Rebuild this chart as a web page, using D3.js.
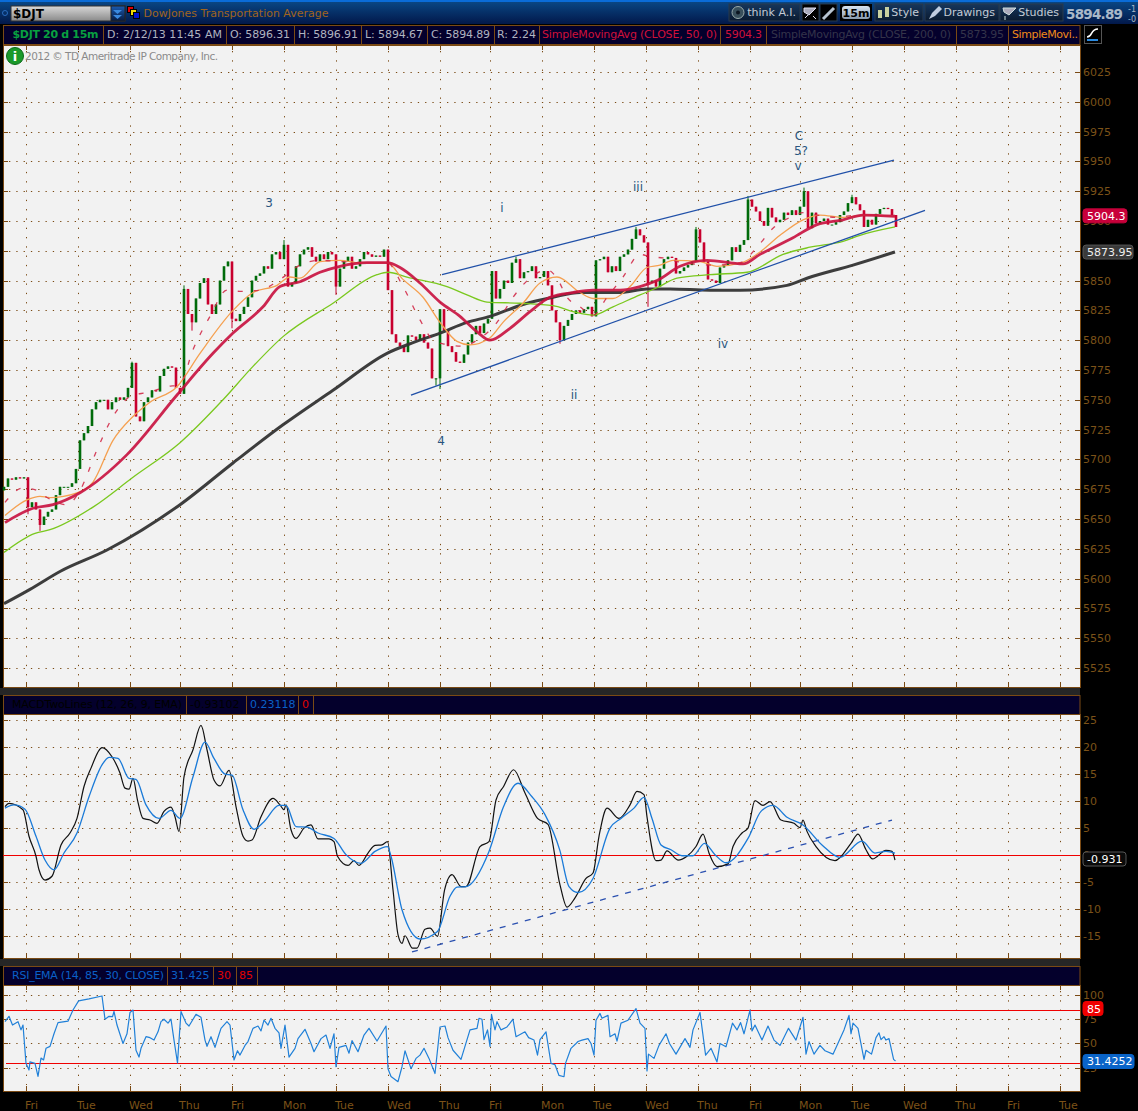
<!DOCTYPE html>
<html><head><meta charset="utf-8">
<style>html,body{margin:0;padding:0;background:#000;overflow:hidden}svg{display:block}text{font-family:"DejaVu Sans",sans-serif}</style>
<script src="https://cdnjs.cloudflare.com/ajax/libs/d3/7.8.5/d3.min.js"></script>
</head><body><div id="chart"></div>
<script>
// ---------- DATA. t = time position in half-bar (7.5 min) units ----------
const dayTickT=[26,78,130,180,232,284,336,388,440,490,542,594,646,698,750,800,852,904,956,1008,1060];
const dayLabels=["Fri","Tue","Wed","Thu","Fri","Mon","Tue","Wed","Thu","Fri","Mon","Tue","Wed","Thu","Fri","Mon","Tue","Wed","Thu","Fri","Tue"];
const priceTicks=[6025,6000,5975,5950,5925,5900,5875,5850,5825,5800,5775,5750,5725,5700,5675,5650,5625,5600,5575,5550,5525];
const macdTicks=[25,20,15,10,5,0,-5,-10,-15];
const rsiTicks=[100,75,50,25];
// 30-minute closes (every 4 t units, starting t=4)
const closes=[5677,5684,5683,5685,5684,5685,5660,5664,5658,5645,
5652,5656,5658,5670,5677,5677,5677,5680,5692,5716,
5722,5728,5742,5748,5750,5750,5742,5748,5752,5750,
5752,5760,5781,5736,5732,5748,5752,5758,5757,5770,
5776,5778,5777,5760,5755,5843,5822,5815,5835,5848,
5852,5830,5822,5830,5850,5862,5866,5818,5816,5822,
5828,5836,5850,5854,5856,5862,5860,5872,5874,5868,
5880,5845,5848,5862,5872,5876,5878,5870,5866,5872,
5868,5874,5872,5845,5860,5866,5870,5860,5862,5868,
5874,5872,5870,5871,5870,5876,5842,5805,5798,5795,
5790,5804,5803,5800,5805,5798,5793,5768,5768,5826,
5808,5795,5790,5782,5781,5788,5798,5805,5812,5806,
5814,5818,5858,5835,5843,5850,5848,5865,5868,5852,
5857,5858,5862,5852,5853,5858,5846,5825,5815,5800,
5812,5817,5822,5825,5823,5826,5828,5820,5867,5868,
5870,5857,5862,5858,5870,5872,5876,5885,5893,5888,
5882,5848,5850,5845,5860,5868,5870,5869,5856,5858,
5861,5863,5866,5893,5882,5866,5851,5850,5848,5861,
5863,5867,5878,5874,5880,5884,5918,5912,5908,5900,
5896,5911,5903,5899,5901,5907,5905,5909,5905,5912,
5925,5894,5907,5898,5900,5902,5897,5897,5899,5905,
5908,5915,5920,5914,5909,5895,5901,5897,5906,5910,
5911,5910,5905,5895];
const wickHighIdx=[32,45,70,128,158,173,186,200,212];
const wickHighVal=[5782,5846,5884,5870,5895,5895,5921,5928,5922];
const wickLowIdx=[6,9,47,57,83,109,139,161,108];
const wickLowVal=[5654,5640,5808,5810,5838,5759,5797,5828,5762];
const sma200T=[4,30,60,107,180,233,283,333,387,413,440,467,490,523,553,580,620,647,670,710,740,787,807,853,895];
const sma200V=[5579,5591,5606,5624,5662,5697,5729,5758,5789,5798,5806,5815,5820,5830,5836,5840,5840,5843,5843,5842,5842,5846,5852,5863,5874];
const limeT=[4,35,50,93,133,180,223,253,283,333,377,388,407,447,467,487,520,553,573,593,613,640,657,677,710,747,783,810,843,860,895];
const limeV=[5622,5638,5641,5660,5685,5714,5750,5778,5803,5831,5855,5857,5853,5845,5838,5832,5831,5829,5824,5821,5828,5838,5844,5852,5855,5857,5872,5878,5883,5888,5895];
const sma50T=[5,33,53,80,127,177,213,233,263,280,300,320,340,367,387,400,420,440,460,477,490,510,530,550,573,593,620,640,657,680,707,743,760,793,817,843,863,895];
const sma50V=[5647,5659,5662,5672,5704,5754,5789,5806,5828,5845,5849,5857,5862,5865,5865,5861,5848,5832,5820,5807,5800,5810,5824,5836,5840,5842,5842,5845,5850,5862,5867,5864,5872,5886,5897,5901,5905,5904];
const orangeT=[5,27,40,50,77,93,113,133,150,177,200,233,253,277,290,300,320,340,360,387,403,423,440,457,470,490,503,523,540,557,580,593,613,630,647,660,673,700,717,742,760,780,803,820,843,867,895];
const orangeV=[5653,5666,5669,5668,5672,5681,5716,5736,5748,5761,5789,5825,5840,5846,5853,5852,5866,5867,5865,5865,5851,5836,5815,5799,5796,5802,5815,5831,5848,5853,5840,5835,5835,5845,5861,5863,5867,5866,5862,5865,5874,5888,5901,5905,5903,5905,5904];
const fastT=[5,23,37,47,67,80,97,113,133,147,167,180,193,210,227,240,260,280,300,320,340,367,387,403,420,433,443,463,477,497,513,530,547,557,567,580,593,607,623,640,650,663,677,713,740,757,773,793,803,817,837,857,893];
const fastV=[5664,5676,5674,5668,5662,5674,5708,5736,5754,5756,5761,5763,5792,5820,5842,5841,5842,5851,5863,5867,5866,5865,5865,5845,5817,5800,5797,5795,5800,5815,5836,5852,5859,5852,5836,5828,5821,5836,5853,5872,5870,5869,5866,5863,5865,5878,5894,5904,5907,5905,5903,5905,5904];
const channelUpperT=[442,894], channelUpperV=[5855,5951];
const channelLowerT=[411,925], channelLowerV=[5754,5909];
const macdT=[5,9,23,29,36,39,45,52,61,70,77,84,91,102,112,120,125,129,133,137.5,143,150,157,164,171,175,179,184,193,201,207,214,220,229,236,243,248,252,261,273,280,284,286,291,296,304,311,318,329,334,337.5,348,354,359,368,375,382,387.5,393,398,402,405,412.5,417,425,430,437.5,444.6,452,461,466,480,489,496,503.6,513.6,525,537.5,548,560,567,575,586,593,599,607,619,630,637,644,647,656,661,667,678,687,696,703,709,717,728,733,742,748,755,763,770,781,794,800,803,807,816,835,851,858,866,872.6,886,892,895];
const macdV=[9,9.6,8.4,3.5,-0.2,-2.7,-4.6,-3.9,1.9,4.1,6.8,12.7,16.1,19.9,18.2,15.2,12.4,12.2,14.2,10.2,6.8,6.5,5.9,8.1,8.9,7.1,4.4,14.5,19.5,24,19.5,13.9,12.8,15.7,9,3.5,2.6,2.8,7.1,10.5,9.3,8.4,9.3,4.7,3.1,5,5.6,3,3,2.5,-0.2,-1.9,-1,-1.9,0.4,1.8,1.9,2.5,-6.4,-14.7,-16.3,-14.9,-17.2,-17.2,-13.7,-13.5,-15,-6.4,-3.6,-5.8,-5.8,1.6,2.5,10.2,12.7,15.8,11.5,6.8,5.7,-5.5,-9.6,-7.9,-4.3,-3.3,3.5,8.7,6.8,9.3,11.8,11.2,7.1,-1,-0.9,0.8,-0.9,-0.2,1.6,3.9,0.4,-2.1,-1.6,1.6,4.1,5,10.1,9.2,9.9,6.5,5.9,5.1,6.5,4.4,1.6,-1,2.2,3.9,1,-0.7,0.9,0.7,-0.9];
const signalT=[5,14,25,36,45,54,64,77,89,102,109,118,129,136,146,159,171,180,193,205,214,225,232,243,254,264,279,286,296,307,318,334,346,361,375,387.5,391,402,420,437.5,450,457,466,489,503.6,518,532,545,560,569,578,593,610,621,634,644,652,661,671,682,693,704.5,715,726,748,761,773,787,803,822,840,862,875,886,895];
const signalV=[8.7,9.3,8.5,3.5,-0.9,-2.7,0.4,4.1,10.8,16.7,18.1,17.9,14.2,14,9.3,6.8,8.3,6.8,14.5,20.9,17.9,15,14.8,8.4,4.8,6.2,9.2,9.2,5.3,5.2,4.1,3.1,0.1,-1.5,0.7,1.6,-0.2,-10.1,-15.5,-14.1,-7.6,-5.9,-5.8,0.7,9,13.3,10.8,7.5,0.8,-5.8,-6.9,-4.3,5,6.8,8.7,10.7,6.8,1.9,1,-0.1,-0.1,2.2,0.1,-1.4,3.1,8.1,9.2,7,5.6,1.9,-0.4,2.6,0.4,0.7,0.4];
const macdTrendT=[412,892], macdTrendV=[-17.9,6.5];
const rsiT=[5,9,12.5,18,21,23,26,29,30,35,38,41,43.6,46,50,54,58,68,73,78.6,89,102,105,109,112.5,114,117,123,127,130,133,136,139,141,146,150,154,158,161,164,168,171,174,177.5,181,186,189,196,201,205,207,211,215,218.6,221,227,230,234,237.5,240,245,248,253,258,261,264,268,271,275,279,281,285,289,295,298,305,311,314,321,326,330,334,336,339,346,349,352,358,364,369,377,386,388,391,398,402,405,411,416,420,424,429,435,440,445,448,453,461,470,477,479,482,484,487.5,490,491.5,495,497,501,507,513,516,525,528.6,534,537.5,540,546,551,555,559,564,565.5,571,575.5,578,582,588,591,594,596,600,602,608,610,615,617,621,628,636,640,645,647,648.5,654,659,666,669.5,676,685,690,693,700,705.6,711,717,720,726,732.5,737,740.6,744,750,752,755,762,768,774,780,788.5,796,803,806,809,814,820,825,833,844,849,851,853,858,864,866,871.5,876,879,881,884,886,889,893.6,895.5];
const rsiV=[72.5,78,69,72.5,64,69,29.5,22.6,31,29.5,16,35,33,45,47,60,71.5,73,84.5,94,96,99,75,78,77.6,83,69,50,60,82,84.5,43,36,45,57,56,53.5,62,72.5,75,71,75,53.5,30,83,71,68,80,77,53.5,47,57,46,58,65.6,72.5,69,33,42.5,38,48,52,65.6,68,63,74,69,76,65.6,61,45,69,36,45,55,64.6,50,41.5,55,58.7,45,60,26,46,48,40,53,41.5,58.7,65.6,52.5,68,24,16,10.6,26,42.5,24,34.6,38,45,34.6,19,67,68,56,43,33.6,64,65.6,76,75,54,64,47,80,64,72.5,64,67,75,57,62,56,53.5,38,54,62,29.5,28,17,15.7,29.5,45,49.4,52,53.5,55,50,38,74,81,76,79,57,60,52.5,71,74,86,71,65.6,21.6,39,34.6,48,60,50,39,55,46,64,82,38,45,31,50,46.6,71,64,71.5,60,84.5,63,69,53.5,68,53.5,48,65.6,53.5,77,39,52,39,48,42.5,39,64,79,60,71,65.6,33.6,43,39,56,61,54,57,53.5,55,33.6,32];
const rsiLevels=[85,30];
// ---------- layout ----------
const W=1138,H=1111,L=3,R=1080;
const P={top:45,bot:687}, M={top:714,bot:958}, S={top:985,bot:1091};
const C={brown:"#7a4a14",axis:"#7c5218",plot:"#f2f2f2",red:"#c8002e",green:"#006b0a",navy:"#04002c",line:"#f00000"};
const x=d3.scaleLinear().domain([0,W]).range([0,W]);
const yP=d3.scaleLinear().domain([5525,6025]).range([668,72]);
const yM=d3.scaleLinear().domain([-15,25]).range([936.3,720]);
const yS=d3.scaleLinear().domain([25,100]).range([1067.7,995]);
const svg=d3.select("#chart").append("svg").attr("width",W).attr("height",H);
const defs=svg.append("defs");
function grad(id,stops){const g=defs.append("linearGradient").attr("id",id).attr("x1",0).attr("x2",0).attr("y1",0).attr("y2",1);
 stops.forEach(s=>g.append("stop").attr("offset",s[0]).attr("stop-color",s[1]));}
grad("gTop",[[0,"#0a4a88"],[1,"#02184a"]]);
grad("gSym",[[0,"#d8d8d8"],[1,"#8a8a8a"]]);
grad("gBtn",[[0,"#16365c"],[1,"#0a1a30"]]);
grad("gDrop",[[0,"#1a5ab0"],[1,"#061a40"]]);
grad("gM",[[0,"#d8e4f0"],[1,"#8a9cb0"]]);
function rect(g,a,b,w,h,f,s){return g.append("rect").attr("x",a).attr("y",b).attr("width",w).attr("height",h).attr("fill",f).attr("stroke",s||"none");}
function txt(g,a,b,t,f,sz,o={}){const e=g.append("text").attr("x",a).attr("y",b).attr("fill",f).attr("font-size",sz).text(t);
 for(const k in o)e.attr(k,o[k]);return e;}
rect(svg,0,0,W,H,"#000");
// top bar
const tb=svg.append("g");
rect(tb,0,0,W,24,"url(#gTop)");rect(tb,0,0,W,2,"#0a6cd8");
tb.append("circle").attr("cx",5).attr("cy",13).attr("r",2.5).attr("fill","none").attr("stroke","#2a6cc0");
rect(tb,11,6,114,15,"url(#gSym)","#333");
txt(tb,13,18,"$DJT","#000",12,{"font-weight":"bold"});
rect(tb,111,6,14,15,"url(#gDrop)","#222");
tb.append("path").attr("d","M113,10h9l-4.5,4zM113,15h9l-4.5,4z").attr("fill","#3a8ae0");
rect(tb,127.5,6.5,6,6,"#e00000","#000");rect(tb,130.5,9.5,6,6,"#f0d800","#000");rect(tb,133.5,12.5,6,6,"#0010d0","#000");
txt(tb,143.5,17,"DowJones Transportation Average","#a0641e",11,{textLength:185});
[[729,71,"think A.I."],[802,17,""],[820,17,""],[875,48,"Style"],[925,74,"Drawings"],[1000,63,"Studies"]].forEach((b,i)=>{
 rect(tb,b[0],4,b[1],17,i==1||i==2?"#000":"url(#gBtn)","#2a3a4a");
 if(b[2])txt(tb,b[0]+b[1]-4,16,b[2],"#c4ccd4",11,{"text-anchor":"end"});
});
tb.append("circle").attr("cx",738).attr("cy",12.5).attr("r",6).attr("fill","#39505c").attr("stroke","#9aa");
tb.append("circle").attr("cx",738).attr("cy",12.5).attr("r",2).attr("fill","#0b1520");
tb.append("path").attr("d","M804,8l12,0l-7,7l-5,-3zM805,18l3,-3M816,19l-3,-3").attr("fill","#aab").attr("stroke","#dde");
tb.append("path").attr("d","M823,19l8,-8M831,11l3,-3").attr("stroke","#b8c4d0").attr("stroke-width",3);
rect(tb,840,4,32,17,"#000");rect(tb,842,6,28,13,"url(#gM)").attr("rx",3);
txt(tb,856,16.5,"15m","#000",11,{"text-anchor":"middle","font-weight":"bold"});
tb.append("path").attr("d","M880,10v8M887,7v10").attr("stroke","#c8d0a0").attr("stroke-width",4);
tb.append("path").attr("d","M929,19l3,-6l7,-7l3,3l-7,7z").attr("fill","#c0cde0");
tb.append("path").attr("d","M1003,8l13,0l-7,7l-5,-3zM1005,20v-4").attr("fill","#aab").attr("stroke","#cdd");
txt(tb,1066,19,"5894.89","#aab8c8",13.5,{"font-weight":"bold",textLength:57});
txt(tb,1128,12,"-1","#aab8c8",8);txt(tb,1128,22,"-0","#aab8c8",8);
function header(yT,h,seps,texts){const g=svg.append("g");rect(g,3.5,yT+.5,1076.5,h,C.navy,C.brown);
 seps.forEach(s=>g.append("line").attr("x1",s).attr("x2",s).attr("y1",yT).attr("y2",yT+h).attr("stroke",C.brown));
 texts.forEach(t=>{const e=txt(g,t[0],yT+12.5,t[1],t[2],t[3]||11,t[4]||{});});}
header(25,19,[103.5,226.5,294.5,361.5,427.5,494.5,539.5,720.5,766.5,956.5,1008.5],[
 [12.5,"$DJT 20 d 15m","#08a040",11,{"font-weight":"bold",textLength:86}],[107,"D: 2/12/13 11:45 AM","#b0b4c0",11,{textLength:115}],[230,"O: 5896.31","#b0b4c0",11,{textLength:60}],[298,"H: 5896.91","#b0b4c0",11,{textLength:60}],
 [365,"L: 5894.67","#b0b4c0",11,{textLength:58}],[431,"C: 5894.89","#b0b4c0",11,{textLength:59}],[497,"R: 2.24","#b0b4c0"],
 [542,"SimpleMovingAvg (CLOSE, 50, 0)","#d0103a",11,{textLength:175}],[725,"5904.3","#d0103a",11,{textLength:37}],
 [771,"SimpleMovingAvg (CLOSE, 200, 0)","#34344a",11,{textLength:180}],[960,"5873.95","#34344a",11,{textLength:44}],[1012,"SimpleMovi..","#f08a1a",11,{textLength:66}]]);
rect(svg,1084.5,25.5,17,18,"#000","#555");
svg.append("path").attr("d","M1087,40h11").attr("stroke","#2a8ae0").attr("stroke-width",2);
svg.append("path").attr("d","M1087,37c6,0,3,-8,11,-8").attr("fill","none").attr("stroke","#fff").attr("stroke-width",1.5);
header(695,19,[186.5,246.5,298.5,313.5],[[12,"MACDTwoLines (12, 26, 9, EMA)","#000",11,{textLength:170}],[190,"-0.93102","#000"],[250,"0.23118","#0a60c8"],[302,"0","#e00000"]]);
header(966,19,[167.5,213.5,236.5,257.5],[[12,"RSI_EMA (14, 85, 30, CLOSE)","#0a60c8",11,{textLength:152}],[171,"31.425","#0a60c8"],[217,"30","#e00000"],[239,"85","#e00000"]]);
[[688,7],[959,7]].forEach(b=>rect(svg,0,b[0],W-58,b[1],"#262626"));
// panels
function panel(pp,y,ticks){const g=svg.append("g");
 rect(g,L+.5,pp.top+.5,R-L,pp.bot-pp.top,C.plot,C.brown);
 ticks.forEach(t=>{const yy=Math.round(y(t))+.5;
  g.append("line").attr("x1",L+6).attr("x2",R-6).attr("y1",yy).attr("y2",yy).attr("stroke",C.brown).attr("stroke-dasharray","1.3,6");
  g.append("line").attr("x1",L).attr("x2",L+5).attr("y1",yy).attr("y2",yy).attr("stroke",C.brown);
  g.append("line").attr("x1",R-5).attr("x2",R).attr("y1",yy).attr("y2",yy).attr("stroke",C.brown);});
 dayTickT.forEach(t=>{const xx=Math.round(x(t))+.5;
  g.append("line").attr("x1",xx).attr("x2",xx).attr("y1",pp.top+6).attr("y2",pp.bot-6).attr("stroke",C.brown).attr("stroke-dasharray","1.3,8");
  g.append("line").attr("x1",xx).attr("x2",xx).attr("y1",pp.top).attr("y2",pp.top+5).attr("stroke",C.brown);
  g.append("line").attr("x1",xx).attr("x2",xx).attr("y1",pp.bot-5).attr("y2",pp.bot).attr("stroke",C.brown);});
}
panel(P,yP,priceTicks);panel(M,yM,macdTicks);panel(S,yS,rsiTicks);
// right axes with d3
function rAxis(y,ticks){const g=svg.append("g").attr("transform",`translate(${R},0)`).call(d3.axisRight(y).tickValues(ticks).tickSize(0).tickPadding(3).tickFormat(d=>d));
 g.select(".domain").remove();g.selectAll("text").attr("fill",C.axis).attr("font-size",11).attr("font-family",'"DejaVu Sans"');}
rAxis(yP,priceTicks);rAxis(yM,macdTicks);rAxis(yS,rsiTicks);
const gx=svg.append("g").attr("transform",`translate(0,${S.bot})`).call(d3.axisBottom(x).tickValues(dayTickT).tickSize(0).tickFormat((d,i)=>dayLabels[i]));
gx.select(".domain").remove();
gx.selectAll("text").attr("fill",C.axis).attr("font-size",11).attr("font-family",'"DejaVu Sans"').attr("text-anchor","start").attr("dx",-1.5).attr("dy",0).attr("y",18);
// copyright
svg.append("circle").attr("cx",15).attr("cy",56).attr("r",8.5).attr("fill","#1a9a2a").attr("stroke","#0a6a18");
txt(svg,15,60.5,"i","#fff",13,{"text-anchor":"middle","font-weight":"bold"});
txt(svg,25,60,"2012 © TD Ameritrade IP Company, Inc.","#8a8a8a",10.5,{textLength:193});
// line helper
function draw(ts,vs,y,col,w,o={}){const gen=d3.line().x((d,i)=>x(ts[i])).y(d=>y(d)).curve(o.curve||d3.curveMonotoneX);
 const p=svg.append("path").attr("d",gen(vs)).attr("fill","none").attr("stroke",col).attr("stroke-width",w).attr("stroke-linejoin","round");
 if(o.dash)p.attr("stroke-dasharray",o.dash);if(o.opacity)p.attr("stroke-opacity",o.opacity);return p;}
// candles
const cW=2.6;
const cg=svg.append("g");
const hi=new Map(wickHighIdx.map((k,i)=>[k,wickHighVal[i]])), lo=new Map(wickLowIdx.map((k,i)=>[k,wickLowVal[i]]));
closes.forEach((c,k)=>{const o=k?closes[k-1]:c-3,t=4+4*k,col=c>=o?C.green:C.red,xx=x(t);
 const bt=Math.max(o,c),bb=Math.min(o,c);
 const h=hi.has(k)?hi.get(k):bt,l=lo.has(k)?lo.get(k):bb;
 cg.append("line").attr("x1",xx).attr("x2",xx).attr("y1",yP(h)).attr("y2",yP(l)).attr("stroke",col).attr("stroke-width",1);
 cg.append("rect").attr("x",xx-cW/2).attr("y",yP(bt)).attr("width",cW).attr("height",Math.max(1,yP(bb)-yP(bt))).attr("fill",col);
});
draw(sma200T,sma200V,yP,"#333",3,{opacity:.95});
draw(limeT,limeV,yP,"#7ac81e",1.3);
draw(orangeT,orangeV,yP,"#f5a050",1.3);
draw(sma50T,sma50V,yP,"#c8103e",2.8,{opacity:.9});
draw(fastT,fastV,yP,"#d02040",1.3,{dash:"5,11",opacity:.85});
draw(channelUpperT,channelUpperV,yP,"#2050a8",1.3);
draw(channelLowerT,channelLowerV,yP,"#2050a8",1.3);
[[269,203,"3"],[441,441,"4"],[502,208,"i"],[574,395,"ii"],[638,187,"iii"],[723,344,"iv"],[799,136,"C"],[801,151,"5?"],[798,166,"v"]].forEach(a=>
 txt(svg,x(a[0]),yP(yP.invert(a[1]+4)),a[2],"#2a5580",12,{"text-anchor":"middle"}));
// MACD
const zM=Math.round(yM(0))+.5;svg.append("line").attr("x1",L).attr("x2",R).attr("y1",zM).attr("y2",zM).attr("stroke",C.line).attr("stroke-width",1);
draw(macdTrendT,macdTrendV,yM,"#2a50b0",1.3,{dash:"6,7"});
draw(macdT,macdV,yM,"#111",1.2);
draw(signalT,signalV,yM,"#1a7ad8",1.3);
// RSI
rsiLevels.forEach(v=>{const yy=Math.round(yS(v))+.5;svg.append("line").attr("x1",6).attr("x2",R).attr("y1",yy).attr("y2",yy).attr("stroke",C.line).attr("stroke-width",1);});
draw(rsiT,rsiV,yS,"#2080d8",1.2,{curve:d3.curveLinear});
// value tags
function tag(y0,w,t,f,s,col){rect(svg,1083,y0-7,w,14,f,s).attr("rx",3);txt(svg,1087,y0+4,t,col,11);}
tag(yP(5904.3),44,"5904.3","#c8003a","#c8003a","#fff");
tag(yP(5873.95),50,"5873.95","#3a3a3a","#555","#eee");
tag(859,43,"-0.931","#0a0a0a","#555","#fff");
tag(yS(85)-1,20,"85","#f00000","#f00000","#fff");
tag(yS(31.4252),51,"31.4252","#0a64c8","#0a64c8","#fff");
</script></body></html>
